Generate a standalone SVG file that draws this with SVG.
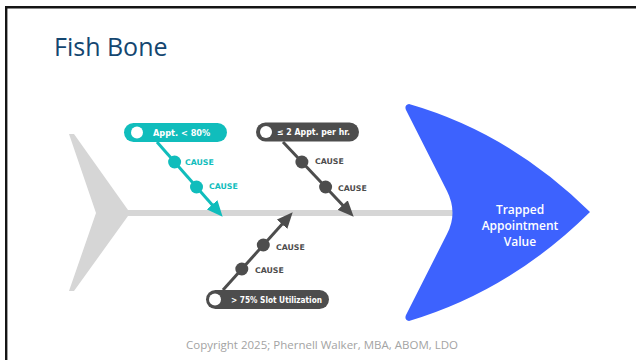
<svg xmlns="http://www.w3.org/2000/svg" width="636" height="360" viewBox="0 0 636 360">
  <style>
    .title { font-family: "Open Sans", "Liberation Sans", sans-serif; font-size: 25px; fill: #144670; }
    .foot { font-family: "Open Sans", "Liberation Sans", sans-serif; font-size: 11px; fill: #A3A3A3; }
    .head-text { font-family: "Open Sans", "Liberation Sans", sans-serif; font-size: 12px; font-weight: 600; fill: #FFFFFF; text-anchor: middle; }
    .pill-text { font-family: "DejaVu Sans", Verdana, sans-serif; font-size: 8.2px; font-weight: bold; fill: #FFFFFF; }
    .cause { font-family: "DejaVu Sans", Verdana, sans-serif; font-size: 7.8px; font-weight: bold; }
    .teal { fill: #10BDBC; }
    .dark { fill: #4D4D4D; }
    .bone-teal { stroke: #10BDBC; stroke-width: 3; fill: none; }
    .bone-dark { stroke: #4D4D4D; stroke-width: 3; fill: none; }
    .knob { fill: #FFFFFF; }
  </style>
  <defs>
    <marker id="arrow-teal" viewBox="0 0 16 14" markerWidth="16" markerHeight="14" refX="7" refY="7" orient="auto" markerUnits="userSpaceOnUse">
      <path d="M0,0 L16,7 L0,14 Z" fill="#10BDBC"/>
    </marker>
    <marker id="arrow-dark" viewBox="0 0 16 14" markerWidth="16" markerHeight="14" refX="7" refY="7" orient="auto" markerUnits="userSpaceOnUse">
      <path d="M0,0 L16,7 L0,14 Z" fill="#4D4D4D"/>
    </marker>
  </defs>

  <rect width="636" height="360" fill="#FFFFFF"/>
  <!-- slide frame -->
  <path d="M6.2,360 V7.2 H636" fill="none" stroke="#151515" stroke-width="2.4"/>

  <text class="title" x="54" y="56">Fish Bone</text>

  <!-- tail and spine -->
  <g id="tail">
    <polygon points="69,134 74,134 128,210 128,216 74,291 69,291 96,213" fill="#D6D6D6"/>
  </g>
  <g id="spine">
    <rect x="126" y="210" width="336" height="6" fill="#D6D6D6"/>
  </g>

  <!-- head -->
  <g id="head">
    <path d="M409,104 Q510,133 590,212 Q510,291 409,321 Q404,320 406,315 L447,234 Q458,213 447,191 L406,110 Q404,105 409,104 Z" fill="#3D62FE"/>
    <text class="head-text" x="520" y="214">Trapped</text>
    <text class="head-text" x="520" y="230">Appointment</text>
    <text class="head-text" x="520" y="246">Value</text>
  </g>

  <!-- bones -->
  <g id="connectors">
    <path class="bone-teal" d="M157,142 L216.7,210" marker-end="url(#arrow-teal)"/>
    <path class="bone-dark" d="M283,142 L347.5,210.2" marker-end="url(#arrow-dark)"/>
    <path class="bone-dark" d="M223,290 L286.7,219" marker-end="url(#arrow-dark)"/>
  </g>

  <!-- cause: Appt. < 80% -->
  <g id="cause-appt-80">
    <rect class="teal" x="124" y="123" width="103" height="19" rx="9.5"/>
    <circle class="knob" cx="137" cy="132.5" r="6"/>
    <text class="pill-text" x="153" y="135.5">Appt. &lt; 80%</text>
    <circle class="teal" cx="174.6" cy="162" r="6.5"/>
    <circle class="teal" cx="196.5" cy="187" r="6.5"/>
    <text class="cause teal" x="185" y="165">CAUSE</text>
    <text class="cause teal" x="209" y="189">CAUSE</text>
  </g>

  <!-- cause: ≤ 2 Appt. per hr. -->
  <g id="cause-appt-per-hr">
    <rect class="dark" x="256" y="122.5" width="103" height="19" rx="9.5"/>
    <circle class="knob" cx="266" cy="132" r="6"/>
    <text class="pill-text" x="277" y="135" textLength="73" lengthAdjust="spacingAndGlyphs">≤ 2 Appt. per hr.</text>
    <circle class="dark" cx="301.9" cy="162" r="6.5"/>
    <circle class="dark" cx="325.6" cy="187" r="6.5"/>
    <text class="cause dark" x="315" y="164">CAUSE</text>
    <text class="cause dark" x="338" y="191">CAUSE</text>
  </g>

  <!-- cause: > 75% Slot Utilization -->
  <g id="cause-slot-utilization">
    <rect class="dark" x="206" y="290" width="123" height="19" rx="9.5"/>
    <circle class="knob" cx="215" cy="299.5" r="6"/>
    <text class="pill-text" x="231" y="302.5" textLength="91" lengthAdjust="spacingAndGlyphs">&gt; 75% Slot Utilization</text>
    <circle class="dark" cx="241.8" cy="269" r="6.5"/>
    <circle class="dark" cx="263.3" cy="245" r="6.5"/>
    <text class="cause dark" x="255" y="273">CAUSE</text>
    <text class="cause dark" x="276" y="250">CAUSE</text>
  </g>

  <text class="foot" x="322" y="349" text-anchor="middle" textLength="272" lengthAdjust="spacingAndGlyphs">Copyright 2025; Phernell Walker, MBA, ABOM, LDO</text>
</svg>
